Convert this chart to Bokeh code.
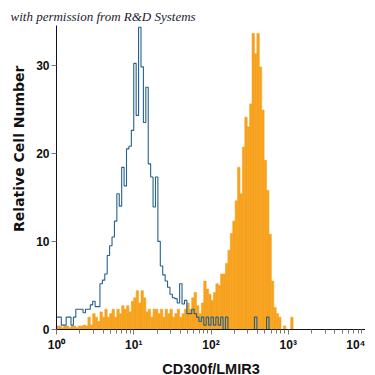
import numpy as np
from bokeh.plotting import figure
from bokeh.models import Range1d, FixedTicker, Title
from bokeh.embed import file_html
from bokeh.resources import INLINE

# channel bins: 32 per decade over 4 decades (log10 edges)
bins_per_decade = 32
n_bins = 128

# isotype control (blue outline) - relative cell number per channel
control = [1.4, 1.4, 0.5, 0.5, 1.4, 1.4, 0.5, 1.4, 2.3, 2.3,
           2.3, 1.9, 2.3, 2.3, 2.8, 3.2, 2.6, 2.6, 5.2, 5.6,
           6.3, 8.4, 9.5, 10.5, 12.3, 15.4, 14.0, 18.4, 16.3, 20.5,
           20.8, 22.6, 30.2, 24.3, 34.3, 29.8, 23.5, 27.5, 18.8, 17.3,
           13.9, 17.3, 10.0, 7.2, 6.2, 5.5, 4.8, 4.0, 3.6, 3.5,
           3.0, 5.2, 2.9, 3.3, 1.8, 1.8, 2.3, 1.8, 1.4, 0.9,
           1.4, 0.5, 1.4, 0.5, 1.4, 0.5, 1.4, 0.5, 1.4, 0.0,
           1.4, 0.0, 0.0, 0.0, 0.0, 0.0, 0.0, 0.0, 0.0, 0.0,
           0.0, 0.0, 1.4, 0.0, 0.0, 0.0, 0.0, 1.4, 0.0, 0.0,
           0.0, 0.0, 0.0, 0.0, 0.0, 0.0, 0.0, 0.0, 0.0, 0.0,
           0.0, 0.0, 0.0, 0.0, 0.0, 0.0, 0.0, 0.0, 0.0, 0.0,
           0.0, 0.0, 0.0, 0.0, 0.0, 0.0, 0.0, 0.0, 0.0, 0.0,
           0.0, 0.0, 0.0, 0.0, 0.0, 0.0, 0.0, 0.0]

# CD300f/LMIR3 stained (orange filled)
stained = [0.4, 0.4, 0.2, 0.4, 0.4, 0.2, 0.4, 0.4, 0.2, 0.4,
           0.4, 0.5, 0.4, 1.4, 0.5, 1.8, 1.4, 0.9, 2.0, 1.4,
           2.3, 1.4, 1.8, 2.3, 1.4, 2.3, 1.8, 2.7, 2.3, 2.7,
           2.0, 3.2, 3.6, 4.4, 3.0, 4.4, 3.6, 2.0, 2.3, 1.4,
           2.3, 2.3, 1.8, 2.3, 1.4, 2.3, 1.8, 2.3, 1.4, 1.8,
           2.3, 1.4, 1.8, 2.3, 3.0, 2.3, 3.6, 4.2, 2.7, 1.8,
           3.0, 5.5, 4.6, 4.0, 3.3, 4.2, 5.2, 5.0, 6.3, 6.3,
           7.5, 9.0, 10.9, 12.3, 14.6, 18.4, 15.4, 20.7, 24.1, 23.0,
           25.6, 33.6, 31.3, 33.6, 29.8, 24.9, 19.2, 15.8, 10.8, 5.5,
           2.5, 1.8, 1.4, 0.0, 0.4, 0.0, 0.0, 1.4, 0.0, 0.0,
           0.0, 0.0, 0.0, 0.0, 0.0, 0.0, 0.0, 0.0, 0.0, 0.0,
           0.0, 0.0, 0.0, 0.0, 0.0, 0.0, 0.0, 0.0, 0.0, 0.0,
           0.0, 0.0, 0.0, 0.0, 0.0, 0.0, 0.0, 0.0]

x_ticks = [1, 10, 100, 1000, 10000]
x_tick_labels = ["10\u2070", "10\u00b9", "10\u00b2", "10\u00b3", "10\u2074"]
y_ticks = [0, 10, 20, 30]

edges = 10 ** (np.arange(n_bins + 1) / bins_per_decade)
left = edges[:-1]
right = edges[1:]

SANS = "'Liberation Sans', Arial, sans-serif"
NARROW = "'Liberation Sans Narrow', 'Liberation Sans', sans-serif"

p = figure(frame_width=309, frame_height=304, x_axis_type="log",
           x_range=Range1d(1, 10000), y_range=Range1d(0, 34.5),
           output_backend="svg", toolbar_location=None,
           min_border_left=56, min_border_right=0,
           min_border_top=25, min_border_bottom=0)
p.outline_line_color = None
p.grid.grid_line_color = None
p.background_fill_color = "white"
p.border_fill_color = "white"

orange = "#F7A21E"
p.quad(left=left, right=right, bottom=0, top=stained,
       fill_color=orange, line_color=orange, line_width=0.6)

# step outline for control
sx = np.repeat(edges, 2)[1:-1]
sy = np.repeat(np.array(control, dtype=float), 2)
p.line(sx, sy, line_color="#25618F", line_width=1.1)

# axes
minor = [m * 10 ** d for d in range(4) for m in range(2, 10)]
p.xaxis.ticker = FixedTicker(ticks=x_ticks, minor_ticks=minor)
p.xaxis.major_label_overrides = {t: l for t, l in zip(x_ticks, x_tick_labels)}
p.yaxis.ticker = FixedTicker(ticks=y_ticks, minor_ticks=[])

for ax in (p.xaxis[0], p.yaxis[0]):
    ax.axis_line_color = "#111122"
    ax.axis_line_width = 1
    ax.major_tick_line_color = "#777777"
    ax.minor_tick_line_color = "#777777"
    ax.major_tick_in = 0
    ax.major_tick_out = 5
    ax.minor_tick_in = 0
    ax.minor_tick_out = 4
    ax.major_label_text_font = SANS
    ax.major_label_text_font_style = "bold"
    ax.major_label_text_font_size = "12px"
    ax.major_label_text_color = "#111111"

p.xaxis.major_label_standoff = 3
p.yaxis.major_label_standoff = 2
p.xaxis.axis_label = "CD300f/LMIR3"
p.xaxis.axis_label_text_font = NARROW
p.xaxis.axis_label_text_font_style = "bold"
p.xaxis.axis_label_text_font_size = "14.5px"
p.xaxis.axis_label_text_color = "#111111"
p.xaxis.axis_label_standoff = 6

ytitle = Title(text="Relative Cell Number", align="right", offset=40,
               text_font="'DejaVu Sans', sans-serif", text_font_style="bold",
               text_font_size="14px", text_color="#111111", standoff=13)
p.add_layout(ytitle, "left")

wm = Title(text="with permission from R&D Systems", align="left", offset=-46,
           text_font="'Liberation Serif', serif", text_font_style="italic",
           text_font_size="13px", text_color="#222233", standoff=3)
p.add_layout(wm, "above")

open("out.html", "w").write(file_html(p, INLINE))
